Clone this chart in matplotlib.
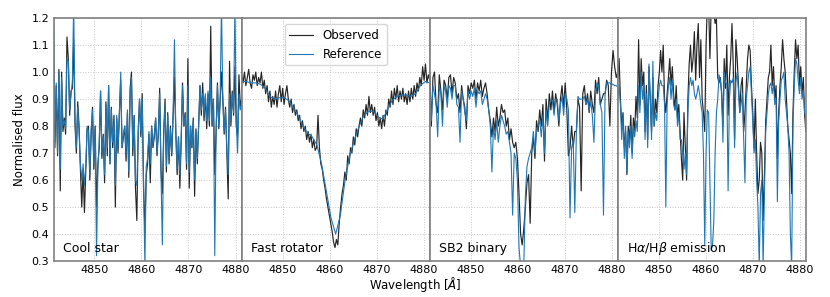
import numpy as np
import matplotlib.pyplot as plt

XMIN, XMAX = 4841.3, 4881.3

panel_names = ['Cool star', 'Fast rotator', 'SB2 binary', r'H$\alpha$/H$\beta$ emission']

# cool star
cool_obs = [1.15, 0.72, 0.95, 0.69, 1.01, 0.56, 1.0, 0.78, 0.83, 0.77, 1.13, 1.05, 0.84, 0.93, 0.94, 1.12,
            0.8, 0.7, 0.89, 0.8, 0.64, 0.5, 0.64, 0.48, 0.63, 0.79, 0.8, 0.6, 0.77, 0.87, 0.64, 0.8,
            0.5, 0.66, 0.72, 0.93, 0.68, 0.77, 0.59, 0.89, 0.69, 0.95, 0.66, 0.87, 0.72, 0.84, 0.5, 0.83,
            0.7, 0.85, 0.97, 0.72, 0.76, 0.8, 0.67, 0.85, 0.61, 0.94, 1.0, 0.69, 0.84, 0.57, 0.45, 0.78,
            0.9, 0.76, 0.92, 0.57, 0.42,
            0.62, 0.66, 0.77, 0.59, 0.8, 0.72, 0.76, 0.83, 0.69, 0.77, 0.94, 0.63, 0.55, 0.78, 0.9, 0.63,
            0.85, 0.66, 0.8, 0.69, 0.84, 0.98, 0.78, 0.62, 0.76, 0.57, 0.74, 0.96, 0.8, 0.85, 0.64, 1.05,
            0.57, 0.8, 0.72, 0.83, 0.54, 0.79, 0.66, 0.8, 0.95, 0.84, 0.96, 0.82, 0.91, 0.79, 0.92, 0.8,
            1.17, 0.8, 0.9, 0.62, 0.78, 0.96, 0.79, 0.89, 1.0, 0.9, 0.77, 0.87, 0.7, 0.53, 1.04, 0.8,
            0.93, 0.84, 1.02, 0.8, 0.76, 0.99, 0.87, 0.9]
cool_ref = [1.25, 0.74, 0.96, 0.7, 1.0, 0.64, 0.98, 0.8, 0.82, 0.79, 1.05, 1.04, 0.86, 0.92, 0.96, 1.25,
            0.82, 0.72, 0.87, 0.78, 0.66, 0.6, 0.66, 0.58, 0.65, 0.8, 0.78, 0.62, 0.79, 0.86, 0.66, 0.8,
            0.32, 0.64, 0.74, 0.93, 0.7, 0.76, 0.62, 0.88, 0.72, 0.95, 0.66, 0.86, 0.74, 0.82, 0.58, 0.84,
            0.72, 0.84, 1.0, 0.72, 0.77, 0.8, 0.69, 0.86, 0.63, 0.92, 0.98, 0.72, 0.83, 0.6, 0.58, 0.76,
            0.9, 0.78, 0.9, 0.6, 0.28,
            0.65, 0.68, 0.78, 0.66, 0.8, 0.73, 0.77, 0.83, 0.7, 0.78, 0.92, 0.62, 0.36, 0.76, 0.88, 0.65,
            0.84, 0.68, 0.79, 0.7, 0.85, 1.12, 0.78, 0.64, 0.76, 0.62, 0.75, 0.95, 0.8, 0.84, 0.66, 0.95,
            0.63, 0.8, 0.72, 0.82, 0.6, 0.78, 0.68, 0.8, 0.95, 0.86, 0.92, 0.84, 0.92, 0.82, 0.93, 0.82,
            0.98, 0.8, 0.9, 0.32, 0.78, 0.95, 0.8, 0.9, 1.25, 0.9, 0.78, 0.86, 0.72, 0.62, 0.92, 0.82,
            0.92, 0.85, 1.25, 0.82, 0.7, 0.92, 0.86, 0.88]

# fast rotator
fast_obs = [0.99, 0.96, 1.0, 0.95, 0.98, 1.01, 0.96, 0.94, 0.99, 0.97, 1.0, 0.95, 0.98, 0.96,
            1.0, 0.94, 0.97, 0.92, 0.95, 0.89, 0.93, 0.87, 0.91, 0.88,
            0.93, 0.87, 0.92, 0.95, 0.89, 0.94, 0.88, 0.92, 0.95, 0.9, 0.87,
            0.9, 0.85, 0.88, 0.84, 0.86, 0.82, 0.84, 0.79, 0.82,
            0.78, 0.8, 0.75, 0.78, 0.74, 0.77, 0.72, 0.75, 0.71,
            0.72, 0.84, 0.72, 0.66, 0.64, 0.6, 0.57, 0.53, 0.5, 0.47, 0.44, 0.41, 0.37, 0.35, 0.38,
            0.36, 0.44, 0.5, 0.55, 0.58, 0.63, 0.6, 0.69, 0.66, 0.72, 0.7, 0.76, 0.73, 0.79, 0.76,
            0.8, 0.83, 0.8, 0.86, 0.83, 0.88, 0.84, 0.91, 0.85, 0.88, 0.84, 0.87, 0.82, 0.85, 0.8,
            0.83, 0.79, 0.84, 0.8, 0.86, 0.84, 0.9, 0.87, 0.93, 0.88, 0.94, 0.9, 0.95, 0.89, 0.93,
            0.9, 0.94, 0.89, 0.92, 0.88, 0.93, 0.89, 0.94, 0.9, 0.95, 0.91, 0.96, 0.93, 0.98, 0.95,
            1.02, 0.97, 1.03, 0.96, 0.99, 0.97]
fast_ref = [0.965, 0.965, 0.96, 0.96, 0.955, 0.94, 0.91, 0.9, 0.905, 0.905, 0.895, 0.87, 0.84, 0.8,
            0.775, 0.76, 0.73, 0.66, 0.56, 0.46, 0.4, 0.47, 0.6, 0.69, 0.75, 0.8, 0.84, 0.855, 0.855,
            0.835, 0.825, 0.86, 0.895, 0.91, 0.915, 0.915, 0.91, 0.92, 0.95, 0.965, 0.96]

# SB2 binary
sb2_obs = [1.0, 0.8, 0.98, 1.0, 0.88, 0.85, 0.99, 0.93, 0.86, 0.97, 0.95, 0.9, 0.98, 0.99, 0.92, 0.98,
           0.96, 0.9, 0.92, 0.85, 0.95, 0.9, 0.87, 0.79, 0.95, 0.92, 0.96, 0.94, 0.97, 0.9, 0.96, 0.93,
           0.97, 0.91, 0.94, 0.96, 0.92, 0.86, 0.82, 0.76, 0.83, 0.78, 0.87, 0.8, 0.83, 0.88, 0.85, 0.86,
           0.8, 0.83, 0.75, 0.79, 0.74, 0.72, 0.74, 0.68, 0.55, 0.4,
           0.36, 0.42, 0.5, 0.59, 0.62, 0.44, 0.7, 0.76, 0.68, 0.82, 0.78, 0.86, 0.8, 0.88, 0.67, 0.9,
           0.82, 0.92, 0.86, 0.93, 0.85, 0.92, 0.88, 0.8, 0.9, 0.95, 0.87, 0.96, 0.86, 0.69, 0.72, 0.8,
           0.72, 0.78, 0.78, 0.9, 0.87, 0.56, 0.92, 0.95, 0.88, 0.92, 0.85, 0.93, 0.88, 0.85, 0.97, 0.92,
           0.98, 0.88, 0.9, 0.92, 0.92, 0.97, 0.95, 0.8, 1.0, 1.08, 1.02, 0.98, 1.0]
sb2_ref = [0.93, 0.82, 0.95, 0.92, 0.88, 0.76, 0.95, 0.92, 0.8, 0.95, 0.93, 0.87, 0.95, 0.94, 0.9, 0.95,
           0.95, 0.88, 0.87, 0.74, 0.93, 0.9, 0.85, 0.82, 0.93, 0.9, 0.93, 0.91, 0.94, 0.87, 0.93, 0.92,
           0.93, 0.88, 0.9, 0.92, 0.9, 0.86, 0.8, 0.63, 0.8, 0.75, 0.82, 0.74, 0.8, 0.84, 0.82, 0.8,
           0.77, 0.78, 0.74, 0.7, 0.47, 0.7, 0.68, 0.6, 0.35, 0.28,
           0.28, 0.28, 0.54, 0.65, 0.68, 0.7, 0.72, 0.78, 0.7, 0.78, 0.8, 0.82, 0.76, 0.84, 0.7, 0.86,
           0.8, 0.88, 0.9, 0.89, 0.84, 0.9, 0.9, 0.82, 0.88, 0.91, 0.84, 0.92, 0.9, 0.86, 0.46, 0.72,
           0.75, 0.48, 0.78, 0.91, 0.9, 0.9, 0.9, 0.91, 0.88, 0.9, 0.86, 0.89, 0.84, 0.74, 0.92, 0.96,
           0.95, 0.88, 0.85, 0.47, 0.92, 0.96, 0.96, 0.96, 0.955, 0.955, 0.95, 0.95, 0.945]

# emission-line star
emis_obs = [0.98, 1.05, 0.9, 0.8, 0.85, 0.72, 0.78, 0.62, 0.8, 0.75, 0.84, 0.7, 0.83, 0.78, 0.91, 0.83,
            1.12, 0.88, 1.05, 0.95, 1.0, 0.78, 0.95, 0.75, 1.02, 0.9, 0.78, 0.98, 0.8, 0.9, 0.85, 0.95,
            1.0, 1.08, 1.0, 1.1, 0.9, 0.85, 0.92, 0.98, 1.05, 0.95, 1.02, 0.92, 0.86, 0.95, 0.83, 0.88,
            0.78, 0.68, 0.6, 0.85, 0.72, 0.6, 0.9, 1.03, 1.1, 1.0, 1.05, 1.15, 0.97, 1.1, 1.18, 0.98,
            1.12, 0.9, 0.85, 0.78, 1.1, 1.25, 1.25, 1.05, 1.25,
            1.25, 1.22, 1.18, 1.2, 0.98, 0.96, 0.98, 0.92, 0.8, 1.05, 0.94, 1.1, 0.84, 0.98, 1.05, 1.18,
            1.02, 0.75, 1.12, 1.05, 0.95, 0.85, 0.95, 0.98, 0.78, 0.85, 0.95, 1.05, 1.1, 1.08, 0.95, 0.85,
            0.72, 0.9, 0.7, 0.55, 0.6, 0.74, 0.7, 0.45, 0.62, 0.82, 0.9, 0.98, 1.0, 1.1, 0.95, 1.02,
            0.9, 0.95, 0.68, 0.85, 0.95, 1.02, 1.12, 1.05, 1.0, 0.9, 0.8, 0.75, 0.7, 0.55, 0.85, 1.0,
            1.12, 1.05, 1.1, 0.95, 1.02, 0.92, 0.98, 0.84, 0.78]
emis_ref = [0.9, 0.95, 0.88, 0.75, 0.84, 0.68, 0.8, 0.63, 0.78, 0.72, 0.8, 0.68, 0.8, 0.76, 0.82, 0.78,
            0.95, 0.85, 1.0, 0.9, 0.95, 0.75, 0.92, 0.72, 1.03, 0.9, 0.75, 1.04, 0.8, 0.85, 0.82, 0.9,
            0.95, 0.97, 0.95, 0.95, 0.88, 0.5, 0.88, 0.95, 0.98, 0.9, 0.97, 0.88, 0.86, 0.9, 0.8, 0.85,
            0.75, 0.75, 0.7, 0.64, 0.7, 0.62, 0.85, 0.95, 0.98, 0.95, 0.97, 0.92, 0.9, 0.92, 0.95, 0.92,
            0.88, 0.85, 0.7, 0.36, 0.7, 0.86, 0.85, 0.6, 0.34,
            0.36, 0.45, 0.7, 0.85, 0.9, 0.99, 0.97, 0.93, 0.74, 1.0, 0.96, 0.96, 0.56, 0.9, 0.97, 0.96,
            0.98, 0.72, 0.96, 1.0, 0.93, 0.85, 0.88, 0.92, 0.76, 0.59, 0.9, 0.95, 1.0, 1.02, 0.92, 0.82,
            0.7, 0.75, 0.6, 0.5, 0.28, 0.55, 0.6, 0.28, 0.55, 0.78, 0.85, 0.92, 0.95, 0.96, 0.92, 0.96,
            0.88, 0.9, 0.52, 0.82, 0.9, 0.97, 0.98, 1.0, 0.9, 0.85, 0.8, 0.7, 0.4, 0.28, 0.8, 0.95,
            1.05, 1.03, 0.97, 0.92, 0.98, 0.9, 0.93, 0.85, 0.83]

observed = [cool_obs, fast_obs, sb2_obs, emis_obs]
reference = [cool_ref, fast_ref, sb2_ref, emis_ref]

plt.rcParams['font.family'] = 'DejaVu Sans'
fig = plt.figure(figsize=(8.3, 2.97), dpi=100)
axes = fig.subplots(1, 4, sharey=True)
fig.subplots_adjust(left=0.0645, right=0.971, top=0.939, bottom=0.121, wspace=0)

for i, ax in enumerate(axes):
    obs = np.array(observed[i])
    ref = np.array(reference[i])
    ax.plot(np.linspace(XMIN, XMAX, len(obs)), obs, color='k', lw=0.85, alpha=0.85, label='Observed')
    ax.plot(np.linspace(XMIN, XMAX, len(ref)), ref, color='#1f77b4', lw=0.8, label='Reference')
    ax.set_xlim(XMIN, XMAX)
    ax.set_ylim(0.3, 1.2)
    ax.set_xticks([4850, 4860, 4870, 4880])
    ax.set_yticks(np.arange(0.3, 1.21, 0.1))
    ax.grid(True, ls=':', color='#c8c8c8', lw=0.7)
    ax.tick_params(length=0, labelsize=8, pad=3)
    for s in ax.spines.values():
        s.set_color('#808080')
        s.set_linewidth(1.2)
    ax.text(0.05, 0.037, panel_names[i], transform=ax.transAxes, fontsize=9, va='baseline')

axes[0].set_ylabel('Normalised flux', fontsize=8.5)
axes[1].legend(loc='upper center', fontsize=8.5)
fig.text(0.5, 0.01, r'Wavelength [$\AA$]', ha='center', va='bottom', fontsize=8.5)

fig.savefig('out.png', dpi=100)
